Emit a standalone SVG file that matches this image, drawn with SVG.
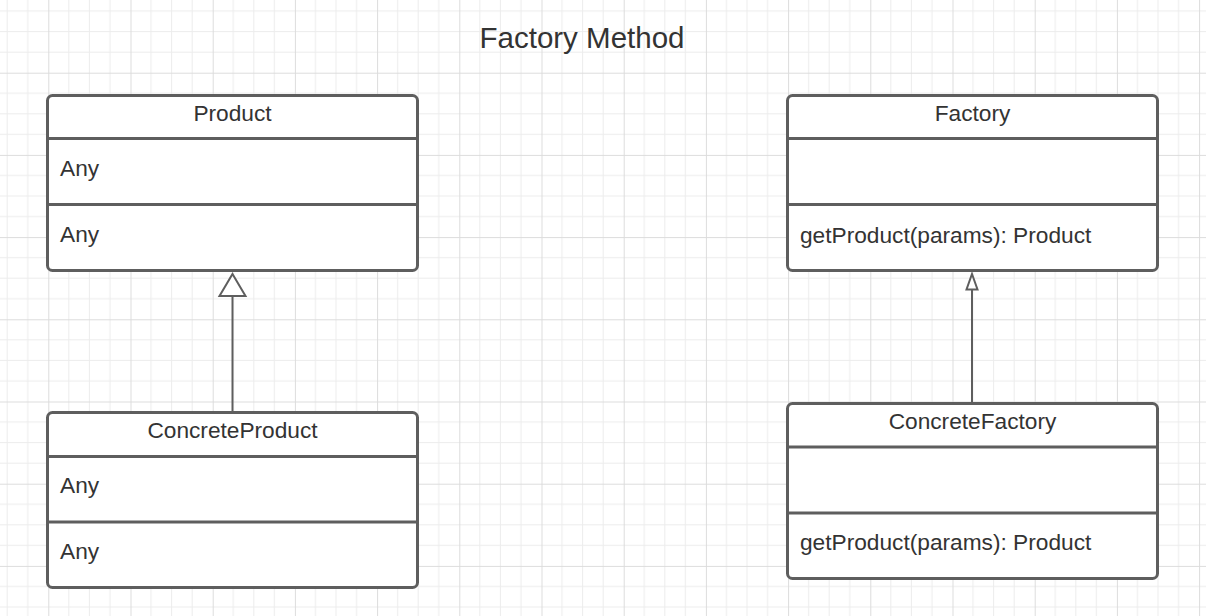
<svg xmlns="http://www.w3.org/2000/svg" width="1206" height="616" viewBox="0 0 1206 616">
  <defs>
    <pattern id="grid" patternUnits="userSpaceOnUse" x="48.3" y="72.7" width="82.2" height="82.2">
      <path d="M20.55 0V82.2M41.1 0V82.2M61.65 0V82.2M0 20.55H82.2M0 41.1H82.2M0 61.65H82.2" stroke="#ececec" stroke-width="1" fill="none"/>
      <path d="M0.5 0V82.2M0 0.5H82.2" stroke="#dcdcdc" stroke-width="1" fill="none"/>
    </pattern>
    <style>
      .box{fill:#fff;stroke:#5e5e5e;stroke-width:3}
      .div{stroke:#5e5e5e;stroke-width:3}
      .t{font-family:"Liberation Sans",Arial,sans-serif;font-size:22.7px;fill:#333}
      .c{text-anchor:middle}
      .title{font-family:"Liberation Sans",Arial,sans-serif;font-size:29.5px;fill:#333;text-anchor:middle}
      .edge{stroke:#5e5e5e;stroke-width:2;fill:none}
      .head{fill:#fff;stroke:#5e5e5e;stroke-width:2}
    </style>
  </defs>
  <rect width="1206" height="616" fill="#fff"/>
  <rect width="1206" height="616" fill="url(#grid)"/>

  <text class="title" x="582" y="48">Factory Method</text>

  <g id="connectors">
    <line class="edge" x1="232.5" y1="412" x2="232.5" y2="295"/>
    <path class="head" d="M232.5 274L245.5 296H219.5Z"/>
    <line class="edge" x1="972" y1="403" x2="972" y2="289"/>
    <path class="head" d="M972 274L977.5 289.5H966.5Z"/>
  </g>

  <g id="product">
    <rect class="box" x="47.5" y="95.5" width="370" height="175" rx="5"/>
    <line class="div" x1="47.5" y1="138.5" x2="417.5" y2="138.5"/>
    <line class="div" x1="47.5" y1="204.5" x2="417.5" y2="204.5"/>
    <text class="t c" x="232.5" y="121">Product</text>
    <text class="t" x="60" y="176">Any</text>
    <text class="t" x="60" y="242">Any</text>
  </g>

  <g id="concreteProduct">
    <rect class="box" x="47.5" y="412.5" width="370" height="175" rx="5"/>
    <line class="div" x1="47.5" y1="456.5" x2="417.5" y2="456.5"/>
    <line class="div" x1="47.5" y1="522" x2="417.5" y2="522"/>
    <text class="t c" x="232.5" y="438">ConcreteProduct</text>
    <text class="t" x="60" y="493">Any</text>
    <text class="t" x="60" y="559">Any</text>
  </g>

  <g id="factory">
    <rect class="box" x="787.5" y="95.5" width="370" height="175" rx="5"/>
    <line class="div" x1="787.5" y1="138.5" x2="1157.5" y2="138.5"/>
    <line class="div" x1="787.5" y1="204.5" x2="1157.5" y2="204.5"/>
    <text class="t c" x="972.5" y="121">Factory</text>
    <text class="t" x="800" y="243">getProduct(params): Product</text>
  </g>

  <g id="concreteFactory">
    <rect class="box" x="787.5" y="403.5" width="370" height="175" rx="5"/>
    <line class="div" x1="787.5" y1="447" x2="1157.5" y2="447"/>
    <line class="div" x1="787.5" y1="513" x2="1157.5" y2="513"/>
    <text class="t c" x="972.5" y="429">ConcreteFactory</text>
    <text class="t" x="800" y="550">getProduct(params): Product</text>
  </g>
</svg>
